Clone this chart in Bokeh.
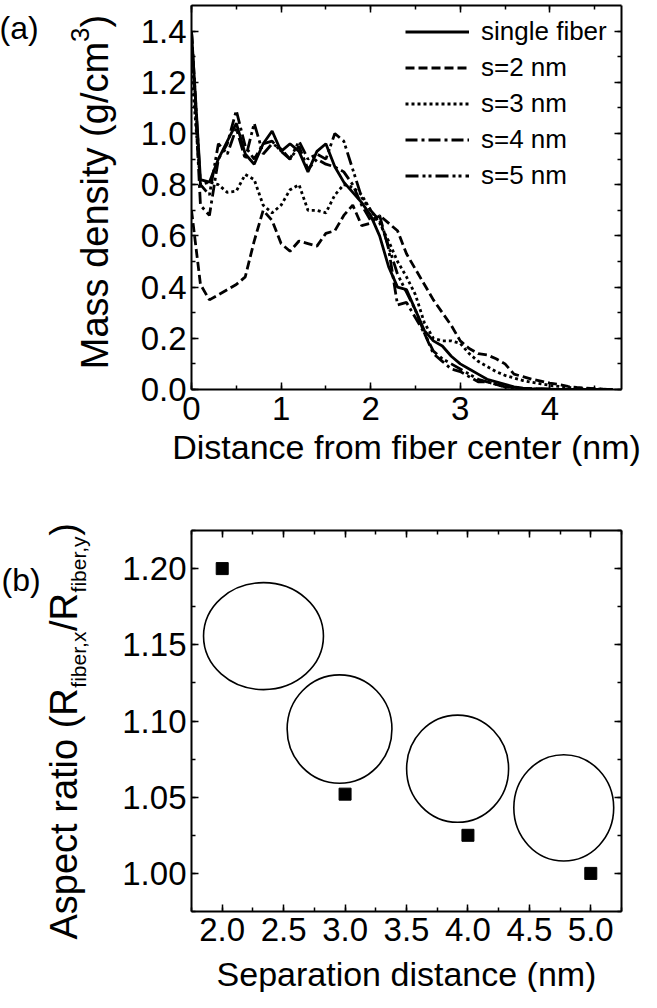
import math
from bokeh.plotting import figure
from bokeh.models import (Range1d, LinearAxis, SingleIntervalTicker, PrintfTickFormatter,
                          Legend, LegendItem, CustomLabelingPolicy)
from bokeh.core.properties import value
from bokeh.layouts import column, row
from bokeh.embed import file_html
from bokeh.resources import INLINE

FONT = "Liberation Sans"

# ---------------- data: panel (a) ----------------
distance = [0.0, 0.1, 0.2, 0.3, 0.4, 0.5, 0.6, 0.7, 0.8, 0.9,
            1.0, 1.1, 1.2, 1.3, 1.4, 1.5, 1.6, 1.7, 1.8, 1.9,
            2.0, 2.1, 2.2, 2.3, 2.4, 2.5, 2.6, 2.7, 2.8, 2.9,
            3.0, 3.1, 3.2, 3.3, 3.4, 3.5, 3.6, 3.7, 3.8, 3.9,
            4.0, 4.1, 4.2, 4.3, 4.4, 4.5, 4.6, 4.7]
single_fiber = [1.40, 0.82, 0.81, 0.90, 0.97, 1.04, 0.92, 0.88, 0.96, 1.01,
                0.93, 0.96, 0.93, 0.85, 0.93, 0.96, 0.87, 0.81, 0.77, 0.73,
                0.68, 0.60, 0.48, 0.40, 0.39, 0.31, 0.23, 0.19, 0.17, 0.13,
                0.10, 0.08, 0.06, 0.04, 0.03, 0.02, 0.01, 0.005, 0.003, 0.002,
                0.001, 0.0, 0.0, 0.0, 0.0, 0.0, 0.0, 0.0]
s2_nm = [0.70, 0.41, 0.35, 0.37, 0.39, 0.41, 0.44, 0.58, 0.70, 0.66,
         0.57, 0.54, 0.58, 0.57, 0.56, 0.61, 0.62, 0.68, 0.72, 0.64,
         0.65, 0.68, 0.65, 0.62, 0.53, 0.47, 0.41, 0.35, 0.30, 0.25,
         0.19, 0.16, 0.14, 0.135, 0.12, 0.10, 0.06, 0.05, 0.04, 0.033,
         0.025, 0.02, 0.012, 0.008, 0.005, 0.003, 0.001, 0.0]
s3_nm = [1.25, 0.80, 0.81, 0.80, 0.77, 0.775, 0.84, 0.82, 0.72, 0.69,
         0.72, 0.78, 0.80, 0.70, 0.70, 0.69, 0.76, 0.80, 0.79, 0.76,
         0.70, 0.65, 0.58, 0.50, 0.44, 0.37, 0.26, 0.20, 0.19, 0.19,
         0.18, 0.14, 0.11, 0.09, 0.07, 0.055, 0.045, 0.035, 0.028, 0.022,
         0.016, 0.012, 0.008, 0.005, 0.003, 0.002, 0.001, 0.0]
s4_nm = [1.40, 0.72, 0.68, 0.90, 0.96, 1.09, 0.95, 0.90, 0.96, 0.97,
         0.93, 0.90, 0.95, 0.86, 0.90, 0.88, 0.87, 0.85, 0.80, 0.72,
         0.66, 0.68, 0.55, 0.33, 0.34, 0.28, 0.22, 0.14, 0.11, 0.08,
         0.07, 0.05, 0.03, 0.03, 0.02, 0.01, 0.006, 0.004, 0.002, 0.001,
         0.0, 0.0, 0.0, 0.0, 0.0, 0.0, 0.0, 0.0]
s5_nm = [1.40, 0.80, 0.76, 0.96, 0.92, 1.02, 0.90, 1.04, 0.92, 0.96,
         0.94, 0.90, 0.97, 0.90, 0.92, 0.90, 1.00, 0.97, 0.86, 0.75,
         0.70, 0.66, 0.56, 0.45, 0.38, 0.31, 0.22, 0.15, 0.12, 0.10,
         0.08, 0.06, 0.04, 0.03, 0.02, 0.01, 0.008, 0.005, 0.003, 0.002,
         0.001, 0.0, 0.0, 0.0, 0.0, 0.0, 0.0, 0.0]
series_labels = ["single fiber", "s=2 nm", "s=3 nm", "s=4 nm", "s=5 nm"]

# ---------------- data: panel (b) ----------------
separation = [2.0, 3.0, 4.0, 5.0]
aspect_ratio = [1.200, 1.052, 1.025, 1.000]
# fiber cross-section sketches (centre / size in data units)
sketch_x = [2.336, 2.955, 3.916, 4.780]
sketch_y = [1.1557, 1.0947, 1.0687, 1.0430]
sketch_w = [0.976, 0.853, 0.830, 0.813]
sketch_h = [0.0702, 0.0711, 0.0703, 0.0697]

# Liberation Sans advance widths (1/1000 em) used to compose sub/superscripts
W = {'A': 667, 's': 500, 'p': 556, 'e': 556, 'c': 500, 't': 278, ' ': 278, 'r': 333,
     'a': 556, 'i': 222, 'o': 556, '(': 333, 'R': 722, 'f': 278, 'b': 556, ',': 278,
     'x': 500, '/': 278, 'y': 500, ')': 333, 'M': 833, 'd': 556, 'n': 556, 'g': 556,
     'm': 833, '3': 556, 'S': 667}
MID = 0.347  # baseline -> middle of text box, in em


def tw(s, size):
    return sum(W[c] for c in s) * size / 1000.0


HIDE_LABELS = CustomLabelingPolicy(code="""
try { for (let i = 0; i < indices.size; i++) { indices.unset(i) } } catch (e) {}
return indices
""")


def style_axis(ax, fmt=None, label_size="33px", standoff=5):
    ax.axis_line_width = 2
    ax.axis_line_color = "black"
    ax.major_tick_in = 7
    ax.major_tick_out = 0
    ax.minor_tick_in = 4
    ax.minor_tick_out = 0
    ax.major_tick_line_width = 1.5
    ax.minor_tick_line_width = 1.5
    ax.major_tick_line_color = "black"
    ax.minor_tick_line_color = "black"
    ax.major_label_text_font = FONT
    ax.major_label_text_font_size = label_size
    ax.major_label_text_color = "black"
    ax.major_label_standoff = standoff
    if fmt:
        ax.formatter = PrintfTickFormatter(format=fmt)


def make_fig(width, height, xr, yr, xtick, ytick, xfmt, yfmt, borders, x_standoff,
             xlabel=None, xlabel_size=34, xlabel_standoff=5):
    left, right, top, bottom = borders
    p = figure(width=width, height=height, x_range=Range1d(*xr), y_range=Range1d(*yr),
               output_backend="svg", toolbar_location=None,
               min_border_left=left, min_border_right=right,
               min_border_top=top, min_border_bottom=bottom)
    p.xgrid.visible = False
    p.ygrid.visible = False
    p.outline_line_color = None
    p.background_fill_color = "white"
    p.border_fill_color = "white"
    xa = p.xaxis[0]
    ya = p.yaxis[0]
    xa.ticker = SingleIntervalTicker(interval=xtick, num_minor_ticks=2)
    ya.ticker = SingleIntervalTicker(interval=ytick, num_minor_ticks=2)
    style_axis(xa, xfmt, standoff=x_standoff)
    style_axis(ya, yfmt, standoff=5)
    if xlabel:
        xa.axis_label = xlabel
        xa.axis_label_text_font = FONT
        xa.axis_label_text_font_size = f"{xlabel_size}px"
        xa.axis_label_text_font_style = "normal"
        xa.axis_label_text_color = "black"
        xa.axis_label_standoff = xlabel_standoff
    top_ax = LinearAxis(ticker=SingleIntervalTicker(interval=xtick, num_minor_ticks=2))
    right_ax = LinearAxis(ticker=SingleIntervalTicker(interval=ytick, num_minor_ticks=2))
    for ax in (top_ax, right_ax):
        style_axis(ax, None, label_size="0px", standoff=0)
        ax.major_label_policy = HIDE_LABELS
    p.add_layout(top_ax, "above")
    p.add_layout(right_ax, "right")
    return p


def text_fig(width, height, borders=(0, 0, 0, 0)):
    left, right, top, bottom = borders
    t = figure(width=width, height=height,
               x_range=Range1d(0, width - left - right), y_range=Range1d(0, height - top - bottom),
               output_backend="svg", toolbar_location=None, x_axis_location=None,
               y_axis_location=None, min_border_left=left, min_border_right=right,
               min_border_top=top, min_border_bottom=bottom)
    t.grid.visible = False
    t.outline_line_color = None
    t.background_fill_color = "white"
    t.border_fill_color = "white"
    return t


def put_centered(t, cx, cy, text, size, angle=0.0):
    t.text(x=[cx], y=[cy], text=[text], angle=angle, text_font=value(FONT),
           text_font_size=value(f"{size}px"), text_align="center",
           text_baseline="middle", text_color="black")


def horizontal_text(t, left, baseline, text, size):
    put_centered(t, left + tw(text, size) / 2, baseline + MID * size, text, size)


def vertical_title(t, parts, base_x, y_start):
    # text reads upward; glyph tops point to smaller x; base_x is the baseline
    y = y_start
    for text, size, dx in parts:
        L = tw(text, size)
        put_centered(t, base_x + dx - MID * size, y + L / 2, text, size, angle=math.pi / 2)
        y += L


LEFT_W = 118
MAIN_W = 641 - LEFT_W
H1 = 485                 # page y 8 .. 493
H2 = 45 + 381 + 46       # page y 493 .. 965 (frame 538 .. 919)
H3 = 992 - H1 - H2       # page y 965 .. 1000

# ---------------- panel (a) ----------------
p1 = make_fig(MAIN_W, H1, (0, 4.8), (0, 1.5), 1, 0.2, "%d", "%.1f",
              (191 - LEFT_W, 20, 5, H1 - 5 - 384), 7,
              xlabel="Distance from fiber center (nm)", xlabel_size=34, xlabel_standoff=5)

styles = ["solid", "9 4", "3 3", "12 4 3 4", "13 4 3 3 3 4"]
series = [single_fiber, s2_nm, s3_nm, s4_nm, s5_nm]
items = []
for ys, dash, lab in zip(series, styles, series_labels):
    r = p1.line(distance, ys, line_color="black", line_width=2.8, line_dash=dash)
    items.append(LegendItem(label=lab, renderers=[r]))

legend = Legend(items=items, location=(214, 198), padding=0, margin=0, spacing=5,
                glyph_width=64, glyph_height=31, label_height=31, label_standoff=12,
                label_text_font=FONT, label_text_font_size="26px", label_text_color="black",
                border_line_color=None, background_fill_alpha=0)
p1.add_layout(legend)

# ---------------- panel (b) ----------------
p2 = make_fig(MAIN_W, H2, (1.75, 5.25), (0.975, 1.225), 0.5, 0.05, "%.1f", "%.2f",
              (191 - LEFT_W, 20, 45, 46), 6)
p2.ellipse(sketch_x, sketch_y, width=sketch_w, height=sketch_h,
           fill_color=None, line_color="black", line_width=1.6)
p2.scatter(separation, aspect_ratio, marker="square", size=12, color="black")

# x title of panel (b): strip below, frame aligned with the plot frame
tX = text_fig(MAIN_W, H3, borders=(191 - LEFT_W, 20, 0, 0))
put_centered(tX, 215, (1000 - 993) + MID * 34, "Separation distance (nm)", 34)

# ---------------- left text column: page (px, py) -> (px - 8, 1000 - py) ----------------
tL = text_fig(LEFT_W, 992)
vertical_title(tL, [("Mass density (g/cm", 38, 0), ("3", 26, -19), (")", 38, 0)],
               116 - 8, 1000 - 376.7)
horizontal_text(tL, -1, 1000 - 46.7, "(a)", 32)
vertical_title(tL, [("Aspect ratio (R", 38, 0), ("fiber,x", 21, 8), ("/R", 38, 0),
                    ("fiber,y", 21, 8), (")", 38, 0)],
               85 - 8, 1000 - 947)
horizontal_text(tL, 1, 1000 - 598.7, "(b)", 32)

layout = row(tL, column(p1, p2, tX, spacing=0), spacing=0)
open("out.html", "w").write(file_html(layout, INLINE))
